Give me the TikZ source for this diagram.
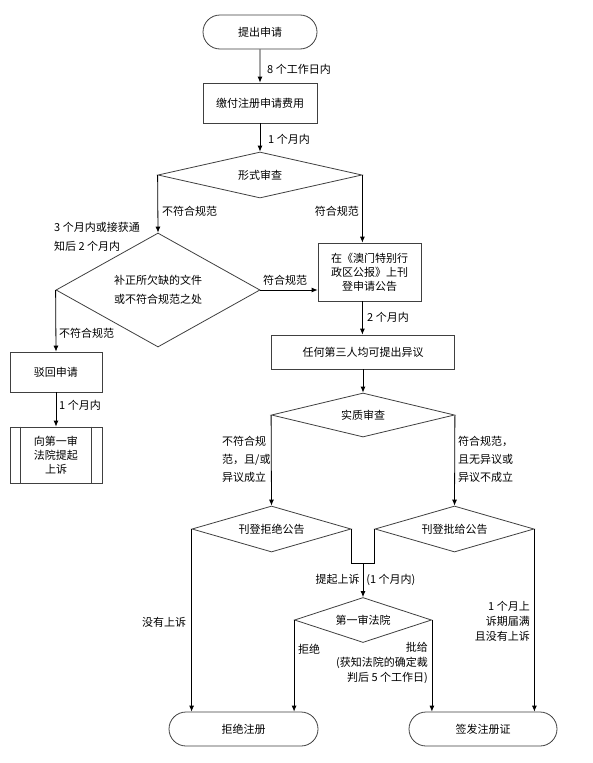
\documentclass[tikz,border=0pt]{standalone}
\usepackage{fontspec}
\setmainfont{Noto Sans CJK SC}
\usetikzlibrary{shapes.geometric,shapes.misc,arrows.meta,calc}
\begin{document}
\begin{tikzpicture}[x=1pt,y=-1pt,
  every node/.style={font=\fontsize{11}{14}\selectfont},
  shp/.style={draw=black!75, line width=0.8pt},
  term/.style={shp, rounded rectangle, minimum height=34pt, inner sep=0pt},
  proc/.style={shp, rectangle, inner sep=0pt, align=center},
  dec/.style={shp, diamond, inner sep=0pt, align=center},
  arr/.style={draw=black, line width=0.8pt, -{Latex[length=6pt,width=5pt]}},
  ln/.style={draw=black, line width=0.8pt},
  lab/.style={inner sep=0pt, align=left, font=\fontsize{11}{18}\selectfont},
  labr/.style={inner sep=0pt, align=right, font=\fontsize{11}{15}\selectfont},
]
\fill[white] (0,0) rectangle (593,763);
\useasboundingbox (0,0) rectangle (593,763);

% shapes
\node[term, minimum width=114pt] (start) at (260,32) {提出申请};
\node[proc, minimum width=114pt, minimum height=40pt] (fee) at (260,103) {缴付注册申请费用};
\node[dec, minimum width=204pt, minimum height=46pt, shape aspect=4.4] (form) at (260,175) {形式审查};
\node[dec, minimum width=204pt, minimum height=114pt, shape aspect=1.8, font=\fontsize{11}{19}\selectfont] (fix) at (158,290) {补正所欠缺的文件\\或不符合规范之处};
\node[proc, minimum width=103pt, minimum height=58pt] (pub) at (369.5,272) {在《澳门特别行\\政区公报》上刊\\登申请公告};
\node[proc, minimum width=92pt, minimum height=40pt] (rej1) at (56,372) {驳回申请};
\node[proc, minimum width=92pt, minimum height=56pt] (appeal) at (56,455) {向第一审\\法院提起\\上诉};
\draw[shp] ($(appeal.north west)+(11,0)$) -- ($(appeal.south west)+(11,0)$);
\draw[shp] ($(appeal.north east)+(-11,0)$) -- ($(appeal.south east)+(-11,0)$);
\node[proc, minimum width=183pt, minimum height=34pt] (third) at (363,352) {任何第三人均可提出异议};
\node[dec, minimum width=183pt, minimum height=44pt, shape aspect=4.2] (subs) at (363,415) {实质审查};
\node[dec, minimum width=159pt, minimum height=46pt, shape aspect=3.5] (rejn) at (271.5,529) {刊登拒绝公告};
\node[dec, minimum width=159pt, minimum height=46pt, shape aspect=3.5] (grant) at (454.5,529) {刊登批给公告};
\node[dec, minimum width=137pt, minimum height=45pt, shape aspect=3] (court) at (363,620) {第一审法院};
\node[term, minimum width=149pt] (refuse) at (243.5,729) {拒绝注册};
\node[term, minimum width=148pt] (issue) at (483,729) {签发注册证};

% connectors
\draw[arr] (start) -- (fee);
\draw[arr] (fee) -- (form);
\draw[arr] (form.west) -- (fix.north);
\draw[arr] (form.east) -- (form.east |- pub.north);
\draw[arr] (fix.east) -- (fix.east -| pub.west);
\draw[arr] (fix.west) -- (rej1.north);
\draw[arr] (rej1) -- (appeal);
\draw[arr] (form.east |- pub.south) -- (form.east |- third.north);
\draw[arr] (third) -- (subs);
\draw[arr] (subs.west) -- (rejn.north);
\draw[arr] (subs.east) -- (grant.north);
\coordinate (m) at (363,563);
\draw[ln] (rejn.east) -- (rejn.east |- m) -- (grant.west |- m) -- (grant.west);
\draw[arr] (m) -- (court.north);
\draw[arr] (rejn.west) -- (rejn.west |- refuse.north);
\draw[arr] (court.west) -- (court.west |- refuse.north);
\draw[arr] (court.east) -- (court.east |- issue.north);
\draw[arr] (grant.east) -- (grant.east |- issue.north);

% labels
\node[lab, anchor=west] (l1) at (267,69) {8 个工作日内};
\node[lab, anchor=west] (l2) at (268,139) {1 个月内};
\node[lab, anchor=west] (l3) at (162,211) {不符合规范};
\node[lab, anchor=east] (l4) at (359,211) {符合规范};
\node[lab, anchor=west, font=\fontsize{11}{19}\selectfont] (l5) at (54,237) {3 个月内或接获通\\知后 2 个月内};
\node[lab] (l6) at (285,280) {符合规范};
\node[lab, anchor=west] (l7) at (59,333) {不符合规范};
\node[lab, anchor=west] (l8) at (59,405) {1 个月内};
\node[lab, anchor=west] (l9) at (367,317) {2 个月内};
\node[lab, anchor=west] (l10) at (222,459) {不符合规\\范，且/或\\异议成立};
\node[lab, anchor=west] (l11) at (458,459) {符合规范，\\且无异议或\\异议不成立};
\node[lab, anchor=west] (l12) at (315.5,580) {提起上诉\hspace{0.6em}(1 个月内)};
\node[lab, anchor=west] (l13) at (142,622) {没有上诉};
\node[lab, anchor=west] (l14) at (298,649) {拒绝};
\node[labr, anchor=north east] (l15) at (428,642) {批给\\(获知法院的确定裁\\判后 5 个工作日)};
\node[labr, anchor=east] (l16) at (530,621) {1 个月上\\诉期届满\\且没有上诉};
\end{tikzpicture}
\end{document}
